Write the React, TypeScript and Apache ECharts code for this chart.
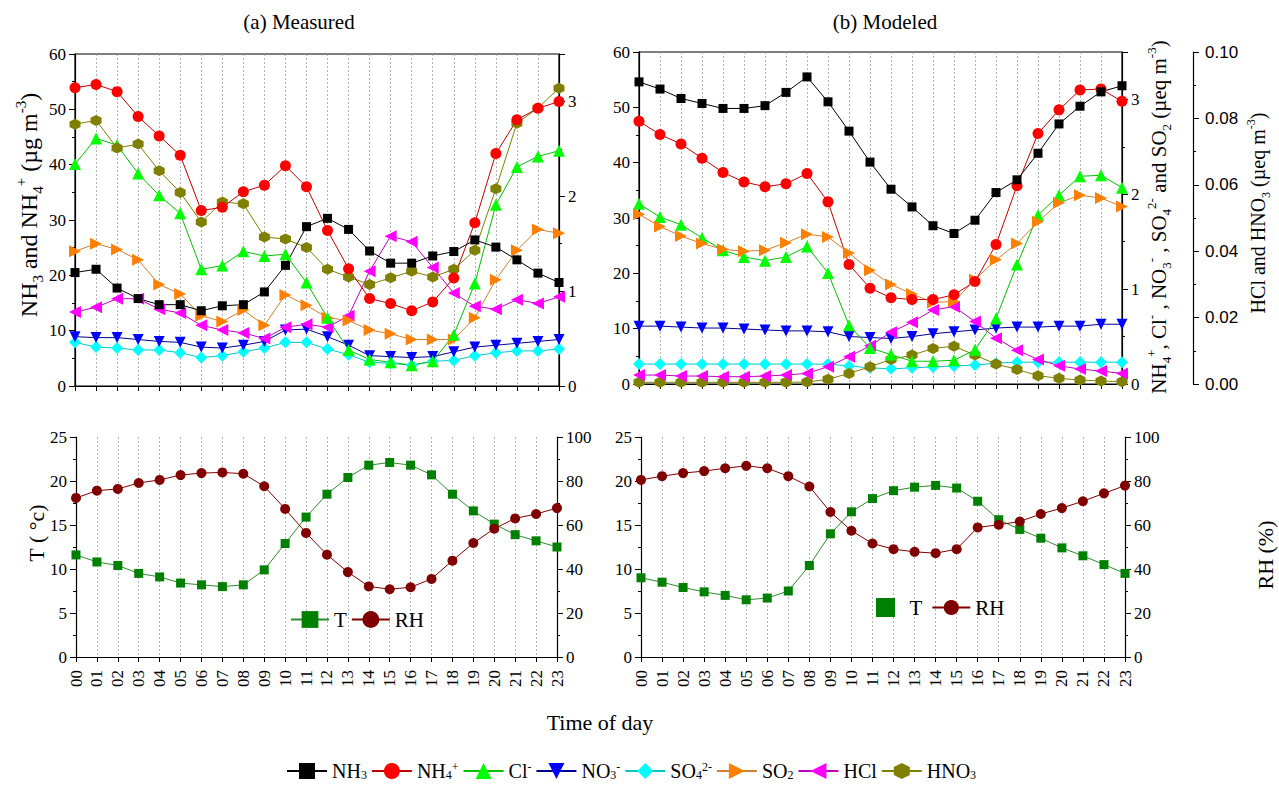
import React, { useEffect, useRef } from 'react';
import * as echarts from 'echarts';

// ---------- categories ----------
const hours = ['00','01','02','03','04','05','06','07','08','09','10','11','12','13','14','15','16','17','18','19','20','21','22','23'];

// ---------- (a) Measured ----------
// NH3, NH4+ : µg m-3 (left axis); others : right axis
const nh3A = [20.5, 21.1, 17.7, 15.8, 14.7, 14.7, 13.6, 14.5, 14.7, 17.0, 21.8, 28.8, 30.3, 28.3, 24.4, 22.2, 22.2, 23.5, 24.3, 26.4, 25.1, 22.8, 20.4, 18.7];
const nh4A = [53.9, 54.5, 53.2, 48.7, 45.2, 41.7, 31.7, 32.3, 35.1, 36.3, 39.8, 36.0, 28.1, 21.2, 15.8, 14.9, 13.6, 15.2, 19.5, 29.5, 42.0, 48.1, 50.2, 51.4];
const clA = [2.34, 2.61, 2.54, 2.24, 2.01, 1.82, 1.23, 1.27, 1.42, 1.37, 1.39, 1.09, 0.72, 0.38, 0.28, 0.25, 0.22, 0.26, 0.54, 1.08, 1.91, 2.31, 2.42, 2.48];
const no3A = [0.52, 0.51, 0.51, 0.49, 0.47, 0.46, 0.41, 0.40, 0.43, 0.47, 0.59, 0.60, 0.52, 0.43, 0.32, 0.31, 0.30, 0.31, 0.36, 0.41, 0.43, 0.45, 0.47, 0.49];
const so4A = [0.46, 0.41, 0.40, 0.38, 0.38, 0.35, 0.30, 0.32, 0.36, 0.40, 0.46, 0.46, 0.39, 0.33, 0.25, 0.24, 0.22, 0.26, 0.27, 0.32, 0.35, 0.37, 0.37, 0.39];
const so2A = [1.42, 1.50, 1.44, 1.33, 1.07, 0.97, 0.74, 0.68, 0.80, 0.64, 0.96, 0.85, 0.72, 0.69, 0.59, 0.55, 0.49, 0.49, 0.49, 0.72, 1.12, 1.43, 1.65, 1.61];
const hclA = [0.78, 0.83, 0.92, 0.92, 0.81, 0.77, 0.64, 0.59, 0.56, 0.50, 0.62, 0.65, 0.62, 0.74, 1.21, 1.58, 1.52, 1.25, 0.98, 0.84, 0.81, 0.91, 0.87, 0.94];
const hno3A = [2.76, 2.80, 2.51, 2.55, 2.27, 2.04, 1.73, 1.94, 1.92, 1.57, 1.55, 1.46, 1.23, 1.15, 1.07, 1.14, 1.21, 1.15, 1.23, 1.43, 2.08, 2.77, 2.93, 3.14];

// ---------- (b) Modeled ----------
const nh3B = [54.6, 53.3, 51.6, 50.7, 49.8, 49.8, 50.3, 52.7, 55.5, 51.0, 45.7, 40.1, 35.2, 32.0, 28.6, 27.2, 29.6, 34.6, 36.9, 41.7, 47.0, 50.2, 52.8, 53.9];
const nh4B = [2.77, 2.63, 2.53, 2.38, 2.23, 2.13, 2.08, 2.11, 2.22, 1.92, 1.26, 1.01, 0.91, 0.89, 0.89, 0.94, 1.08, 1.47, 2.09, 2.64, 2.89, 3.10, 3.11, 2.98];
const clB = [1.90, 1.76, 1.68, 1.54, 1.41, 1.34, 1.30, 1.34, 1.45, 1.17, 0.62, 0.38, 0.31, 0.24, 0.24, 0.25, 0.36, 0.69, 1.26, 1.78, 1.99, 2.19, 2.20, 2.07];
const no3B = [0.61, 0.61, 0.60, 0.59, 0.59, 0.58, 0.57, 0.56, 0.56, 0.55, 0.50, 0.49, 0.48, 0.50, 0.53, 0.55, 0.57, 0.59, 0.60, 0.60, 0.61, 0.61, 0.63, 0.63];
const so4B = [0.21, 0.21, 0.21, 0.21, 0.21, 0.21, 0.21, 0.21, 0.21, 0.21, 0.19, 0.17, 0.16, 0.17, 0.18, 0.19, 0.20, 0.22, 0.23, 0.23, 0.23, 0.23, 0.23, 0.23];
const so2B = [1.79, 1.66, 1.56, 1.48, 1.42, 1.40, 1.41, 1.49, 1.58, 1.55, 1.38, 1.20, 1.05, 0.95, 0.86, 0.87, 1.10, 1.31, 1.48, 1.71, 1.91, 1.99, 1.96, 1.87];
const hclB = [0.0027, 0.0027, 0.0024, 0.0024, 0.0022, 0.0022, 0.0024, 0.0027, 0.0032, 0.0052, 0.0082, 0.0115, 0.0156, 0.0186, 0.0223, 0.0233, 0.0188, 0.0138, 0.0102, 0.0074, 0.0055, 0.0045, 0.0039, 0.0032];
const hno3B = [0.0005, 0.0005, 0.0005, 0.0005, 0.0005, 0.0005, 0.0005, 0.0005, 0.0006, 0.0014, 0.0032, 0.0052, 0.0074, 0.0087, 0.0107, 0.0114, 0.0087, 0.0060, 0.0044, 0.0025, 0.0017, 0.0012, 0.0009, 0.0007];

// ---------- meteorology ----------
const tA = [11.6, 10.8, 10.4, 9.5, 9.1, 8.4, 8.2, 8.0, 8.2, 9.9, 12.9, 15.9, 18.5, 20.4, 21.8, 22.1, 21.8, 20.7, 18.5, 16.6, 15.1, 13.9, 13.2, 12.5];
const rhA = [72.3, 75.6, 76.4, 79.1, 80.5, 82.7, 83.6, 83.9, 83.3, 77.6, 67.3, 56.4, 46.5, 38.6, 32.1, 30.8, 31.7, 35.5, 43.8, 51.8, 58.3, 63.0, 65.0, 67.7];
const tB = [9.0, 8.5, 7.9, 7.4, 7.0, 6.5, 6.7, 7.5, 10.4, 14.0, 16.5, 18.0, 18.9, 19.3, 19.5, 19.2, 17.7, 15.6, 14.5, 13.5, 12.4, 11.5, 10.5, 9.5];
const rhB = [80.5, 82.2, 83.6, 84.5, 85.8, 86.9, 85.8, 82.2, 77.5, 65.9, 57.4, 51.6, 49.0, 47.8, 47.2, 49.0, 58.9, 60.1, 61.6, 65.0, 67.7, 70.8, 74.4, 77.9];

const speciesNames = ['NH3', 'NH4+', 'Cl-', 'NO3-', 'SO42-', 'SO2', 'HCl', 'HNO3'];

// ---------- styles ----------
const SERIF = '"Liberation Serif", "Times New Roman", serif';
const SANS = '"Liberation Sans", Arial, sans-serif';
const HEX = 'path://M0,-1L0.866,-0.5L0.866,0.5L0,1L-0.866,0.5L-0.866,-0.5Z';
const TRI_DOWN = 'path://M0,0L2,0L1,2Z';
const TRI_RIGHT = 'path://M0,0L2,1L0,2Z';
const TRI_LEFT = 'path://M2,0L0,1L2,2Z';
const SQUARE = 'path://M0,0L10,0L10,10L0,10Z';

const META: Record<string, { color: string; line: string; symbol: string; size: number }> = {
  'NH3': { color: '#000000', line: '#000000', symbol: 'rect', size: 9 },
  'NH4+': { color: '#ff0000', line: '#c00000', symbol: 'circle', size: 11 },
  'Cl-': { color: '#00ff00', line: '#00c000', symbol: 'triangle', size: 12 },
  'NO3-': { color: '#0000ff', line: '#000090', symbol: TRI_DOWN, size: 11 },
  'SO42-': { color: '#00ffff', line: '#00c8c8', symbol: 'diamond', size: 12 },
  'SO2': { color: '#ff8000', line: '#d08030', symbol: TRI_RIGHT, size: 12 },
  'HCl': { color: '#ff00ff', line: '#c000c0', symbol: TRI_LEFT, size: 12 },
  'HNO3': { color: '#808000', line: '#808000', symbol: HEX, size: 11 },
  'T': { color: '#008000', line: '#2e8b2e', symbol: 'rect', size: 9 },
  'RH': { color: '#800000', line: '#800000', symbol: 'circle', size: 10 },
};

function line(name: string, data: number[], xAxisIndex: number, yAxisIndex: number) {
  const m = META[name];
  return {
    type: 'line', name, data, xAxisIndex, yAxisIndex,
    symbol: m.symbol, symbolSize: m.size, showSymbol: true, clip: false, silent: true,
    itemStyle: { color: m.color, borderWidth: 0 },
    lineStyle: { color: m.line, width: 1 },
    emphasis: { disabled: true },
  };
}

function richSet(size: number, useFill: boolean, lh = 1.35) {
  const c = useFill ? { fill: '#000' } : { color: '#000' };
  const small = Math.round(size * 0.62);
  return {
    n: { ...c, fontFamily: SERIF, fontSize: size, lineHeight: Math.round(size * lh) },
    b: { ...c, fontFamily: SERIF, fontSize: small, lineHeight: small, verticalAlign: 'bottom' },
    p: { ...c, fontFamily: SERIF, fontSize: small, lineHeight: small, verticalAlign: 'top' },
  };
}

const LEGEND_RICH: Record<string, string> = {
  'NH3': '{n|NH}{b|3}',
  'NH4+': '{n|NH}{b|4}{p|+}',
  'Cl-': '{n|Cl}{p|-}',
  'NO3-': '{n|NO}{b|3}{p|-}',
  'SO42-': '{n|SO}{b|4}{p|2-}',
  'SO2': '{n|SO}{b|2}',
  'HCl': '{n|HCl}',
  'HNO3': '{n|HNO}{b|3}',
};

const AXIS_LINE = { show: true, lineStyle: { color: '#000', width: 1.2 } };
const TICK = { show: true, length: 6, lineStyle: { color: '#000', width: 1 } };
const MINOR = { show: true, splitNumber: 2, length: 3, lineStyle: { color: '#000', width: 1 } };

function xAxis(gridIndex: number, labels: boolean) {
  return {
    type: 'category', gridIndex, data: hours, boundaryGap: false,
    axisLine: AXIS_LINE,
    axisTick: { show: true, interval: 0, length: 5, lineStyle: { color: '#000' } },
    axisLabel: labels
      ? { show: true, interval: 0, rotate: 90, fontFamily: SERIF, fontSize: 17, color: '#000', margin: 13 }
      : { show: false },
    splitLine: { show: true, interval: 0, lineStyle: { color: '#a0a0a0', type: [2, 2], width: 0.8 } },
  };
}

function yAxis(gridIndex: number, position: string, min: number, max: number, interval: number, extra: any = {}) {
  return {
    type: 'value', gridIndex, position, min, max, interval,
    axisLine: AXIS_LINE, axisTick: TICK, minorTick: MINOR,
    splitLine: { show: false }, minorSplitLine: { show: false },
    axisLabel: { fontFamily: SERIF, fontSize: 17, color: '#000', margin: 9, showMaxLabel: extra.showMax !== false, ...(extra.label || {}) },
    offset: extra.offset || 0,
  };
}

function rotText(x: number, y: number, text: string, size: number) {
  return {
    type: 'text', x, y, rotation: Math.PI / 2, silent: true,
    style: { text, rich: richSet(size, true), align: 'center', verticalAlign: 'middle', fill: '#000', fontFamily: SERIF, fontSize: size },
  };
}

function plainText(x: number, y: number, text: string, size: number, rotate = false) {
  return {
    type: 'text', x, y, rotation: rotate ? Math.PI / 2 : 0, silent: true,
    style: { text, align: 'center', verticalAlign: 'middle', fill: '#000', fontFamily: SERIF, fontSize: size },
  };
}

const option: any = {
  animation: false,
  backgroundColor: '#ffffff',
  grid: [
    { left: 75, top: 54, width: 484, height: 332, show: true, borderColor: '#000', borderWidth: 1.2, outerBoundsMode: 'none' },
    { left: 639, top: 52, width: 483, height: 332, show: true, borderColor: '#000', borderWidth: 1.2, outerBoundsMode: 'none' },
    { left: 76, top: 437, width: 481, height: 220, outerBoundsMode: 'none' },
    { left: 641, top: 437, width: 484, height: 220, outerBoundsMode: 'none' },
  ],
  xAxis: [xAxis(0, false), xAxis(1, false), xAxis(2, true), xAxis(3, true)],
  yAxis: [
    yAxis(0, 'left', 0, 60, 10),
    yAxis(0, 'right', 0, 3.5, 1, { showMax: false }),
    yAxis(1, 'left', 0, 60, 10),
    yAxis(1, 'right', 0, 3.5, 1, { showMax: false }),
    yAxis(1, 'right', 0, 0.1, 0.02, { offset: 71, label: { fontFamily: SANS, fontSize: 17, margin: 12, formatter: (v: number) => v.toFixed(2) } }),
    yAxis(2, 'left', 0, 25, 5),
    yAxis(2, 'right', 0, 100, 20),
    yAxis(3, 'left', 0, 25, 5),
    yAxis(3, 'right', 0, 100, 20),
  ],
  legend: [
    {
      data: speciesNames, left: 286, top: 761, orient: 'horizontal', padding: 0,
      itemWidth: 40, itemHeight: 20, itemGap: 4, selectedMode: false,
      formatter: (name: string) => LEGEND_RICH[name] || name,
      textStyle: { color: '#000', fontFamily: SERIF, fontSize: 20, rich: richSet(20, false, 1.0) },
    },
    {
      data: ['T', 'RH'], left: 290, top: 609, orient: 'horizontal', padding: 0,
      itemWidth: 38, itemHeight: 21, itemGap: 4, selectedMode: false,
      textStyle: { color: '#000', fontFamily: SERIF, fontSize: 21 },
    },
    {
      data: [{ name: 'T', icon: SQUARE }, 'RH'], left: 876, top: 597, orient: 'horizontal', padding: 0,
      itemWidth: 38, itemHeight: 19, itemGap: 9, selectedMode: false, symbolKeepAspect: true,
      textStyle: { color: '#000', fontFamily: SERIF, fontSize: 21 },
    },
  ],
  graphic: [
    plainText(299, 22, '(a) Measured', 21),
    plainText(885, 22, '(b) Modeled', 21),
    rotText(29, 205, '{n|NH}{b|3}{n| and NH}{b|4}{p|+}{n| (µg m}{p|-3}{n|)}', 24),
    rotText(1159, 217, '{n|NH}{b|4}{p|+}{n|, Cl}{p|-}{n| , NO}{b|3}{p|-}{n| , SO}{b|4}{p|2-}{n| and SO}{b|2}{n| (µeq m}{p|-3}{n|)}', 21),
    rotText(1258, 213, '{n|HCl and HNO}{b|3}{n| (µeq m}{p|-3}{n|)}', 20),
    plainText(36, 533, 'T ( °c)', 22, true),
    plainText(1265, 555, 'RH (%)', 22, true),
    plainText(600, 722, 'Time of day', 22),
  ],
  series: [
    // (a)
    line('SO42-', so4A, 0, 1),
    line('NO3-', no3A, 0, 1),
    line('HCl', hclA, 0, 1),
    line('SO2', so2A, 0, 1),
    line('Cl-', clA, 0, 1),
    line('HNO3', hno3A, 0, 1),
    line('NH4+', nh4A, 0, 0),
    line('NH3', nh3A, 0, 0),
    // (b)
    line('SO42-', so4B, 1, 3),
    line('NO3-', no3B, 1, 3),
    line('HNO3', hno3B, 1, 4),
    line('HCl', hclB, 1, 4),
    line('Cl-', clB, 1, 3),
    line('SO2', so2B, 1, 3),
    line('NH4+', nh4B, 1, 3),
    line('NH3', nh3B, 1, 2),
    // (c), (d)
    line('T', tA, 2, 5),
    line('RH', rhA, 2, 6),
    line('T', tB, 3, 7),
    line('RH', rhB, 3, 8),
  ],
};

export default function App() {
  const ref = useRef<HTMLDivElement>(null);
  useEffect(() => {
    const chart = echarts.init(ref.current as HTMLDivElement, null, { renderer: 'svg', width: 1279, height: 787 });
    chart.setOption(option);
    return () => chart.dispose();
  }, []);
  return (
    <div
      ref={ref}
      style={{ position: 'absolute', left: 0, top: 0, width: 1279, height: 787, background: '#fff' }}
    />
  );
}
